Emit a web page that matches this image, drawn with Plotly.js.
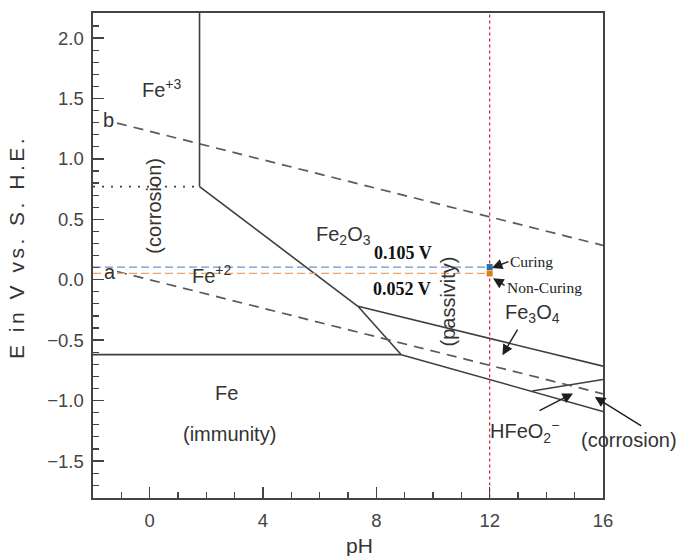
<!DOCTYPE html>
<html>
<head>
<meta charset="utf-8">
<script src="https://cdn.plot.ly/plotly-3.0.1.min.js"></script>
<style>html,body{margin:0;padding:0;background:#fff;}</style>
</head>
<body>
<div id="chart" style="width:677px;height:556px;"></div>
<script>
// ---- data (pH, E in V) ----
const xRange = [-2, 16];
const yRange = [-1.806, 2.207];
const xTickVals = [0, 4, 8, 12, 16];
const yTickVals = [-1.5, -1.0, -0.5, 0.0, 0.5, 1.0, 1.5, 2.0];

const fe3Fe2_pH = [-2, 1.76];          const fe3Fe2_E = [0.77, 0.77];        // dotted
const fe3Fe2O3_pH = [1.76, 1.76];      const fe3Fe2O3_E = [0.77, 2.5];
const fe2Fe2O3_pH = [1.76, 7.35];      const fe2Fe2O3_E = [0.77, -0.22];
const fe2Fe3O4_pH = [7.35, 8.88];      const fe2Fe3O4_E = [-0.22, -0.62];
const feFe2_pH = [-2, 8.88];           const feFe2_E = [-0.62, -0.62];
const feFe3O4_pH = [8.88, 16];         const feFe3O4_E = [-0.62, -1.09];
const fe2O3Fe3O4_pH = [7.35, 16];      const fe2O3Fe3O4_E = [-0.22, -0.715];
const fe3O4HFeO2_pH = [13.5, 16];      const fe3O4HFeO2_E = [-0.92, -0.825];
const lineA_pH = [-1.15, 16];          const lineA_E = [0.068, -0.944];
const lineB_pH = [-1.15, 16];          const lineB_E = [1.296, 0.284];
const pHConcrete = [12, 12];           const pHConcrete_E = [-2, 2.5];
const curing_pH = [-2, 12];            const curing_E = [0.105, 0.105];
const nonCuring_pH = [-2, 12];         const nonCuring_E = [0.052, 0.052];
const curingPoint = {pH: [12], E: [0.105]};
const nonCuringPoint = {pH: [12], E: [0.052]};

const SANS = 'Liberation Sans, Arial, Helvetica, sans-serif';
const SERIF = 'Liberation Serif, Times New Roman, serif';
const LINE = '#3e3e3e';
const TXT = '#333333';

function solid(x, y) {
  return {x: x, y: y, mode: 'lines', line: {color: LINE, width: 1.6}, hoverinfo: 'skip', showlegend: false};
}
function dashed(x, y) {
  return {x: x, y: y, mode: 'lines', line: {color: '#5a5a5a', width: 1.7, dash: '10px,7px'}, hoverinfo: 'skip', showlegend: false};
}

const traces = [
  {x: fe3Fe2_pH, y: fe3Fe2_E, mode: 'lines', line: {color: LINE, width: 1.6, dash: '2px,7px'}, showlegend: false, hoverinfo: 'skip'},
  solid(fe3Fe2O3_pH, fe3Fe2O3_E),
  solid(fe2Fe2O3_pH, fe2Fe2O3_E),
  solid(fe2Fe3O4_pH, fe2Fe3O4_E),
  solid(feFe2_pH, feFe2_E),
  solid(feFe3O4_pH, feFe3O4_E),
  solid(fe2O3Fe3O4_pH, fe2O3Fe3O4_E),
  solid(fe3O4HFeO2_pH, fe3O4HFeO2_E),
  dashed(lineA_pH, lineA_E),
  dashed(lineB_pH, lineB_E),
  {x: curing_pH, y: curing_E, mode: 'lines', line: {color: '#6c96c8', width: 1.3, dash: '8px,4px'}, showlegend: false, hoverinfo: 'skip'},
  {x: nonCuring_pH, y: nonCuring_E, mode: 'lines', line: {color: '#eba466', width: 1.3, dash: '8px,4px'}, showlegend: false, hoverinfo: 'skip'},
  {x: pHConcrete, y: pHConcrete_E, mode: 'lines', line: {color: '#d4213d', width: 1.2, dash: '3px,3px'}, showlegend: false, hoverinfo: 'skip'},
  {x: curingPoint.pH, y: curingPoint.E, mode: 'markers', marker: {symbol: 'square', size: 6, color: '#2a6fae'}, showlegend: false},
  {x: nonCuringPoint.pH, y: nonCuringPoint.E, mode: 'markers', marker: {symbol: 'square', size: 6, color: '#e0791f'}, showlegend: false}
];

function label(text, x, y, opts) {
  opts = opts || {};
  return Object.assign({
    text: text, x: x, y: y, xref: 'x', yref: 'y', showarrow: false,
    xanchor: 'center', yanchor: 'middle',
    font: {family: SANS, size: 20, color: TXT}
  }, opts);
}
function arrow(x, y, ax, ay) {
  return {text: '', x: x, y: y, xref: 'x', yref: 'y', ax: ax, ay: ay, axref: 'pixel', ayref: 'pixel',
    showarrow: true, arrowhead: 2, arrowsize: 1.5, arrowwidth: 1.4, arrowcolor: '#1e1e1e'};
}

const annotations = [
  label('Fe<sup>+3</sup>', 0.44, 1.586),
  label('(corrosion)', 0.14, 0.61, {textangle: -90}),
  label('b', -1.45, 1.32),
  label('a', -1.41, 0.066),
  label('Fe<sup>+2</sup>', 2.2, 0.04),
  label('Fe<sub>2</sub>O<sub>3</sub>', 6.85, 0.37),
  label('<b>0.105 V</b>', 8.93, 0.22, {font: {family: SERIF, size: 18, color: '#111'}}),
  label('<b>0.052 V</b>', 8.9, -0.077, {font: {family: SERIF, size: 18, color: '#111'}}),
  label('(passivity)', 10.53, -0.18, {textangle: -90}),
  label('Curing', 13.47, 0.149, {font: {family: SERIF, size: 15.5, color: '#222'}}),
  label('Non-Curing', 13.93, -0.063, {font: {family: SERIF, size: 15.5, color: '#222'}}),
  label('Fe<sub>3</sub>O<sub>4</sub>', 13.5, -0.279),
  label('HFeO<sub>2</sub><sup>\u2212</sup>', 13.24, -1.259),
  label('Fe', 2.71, -0.941),
  label('(immunity)', 2.8, -1.273),
  {text: '(corrosion)', x: 1.051, y: 0.1196, xref: 'paper', yref: 'paper', showarrow: false,
   xanchor: 'center', yanchor: 'middle', font: {family: SANS, size: 20, color: TXT}},
  arrow(12.08, 0.097, 18, -7),
  arrow(12.12, 0.012, 13, 8),
  arrow(12.45, -0.624, 16, -27),
  arrow(14.94, -0.941, -35, 18),
  arrow(15.71, -0.969, 48, 30),
  // axis titles
  {text: 'pH', x: 0.522, y: -0.097, xref: 'paper', yref: 'paper', showarrow: false,
   xanchor: 'center', yanchor: 'middle', font: {family: SANS, size: 21, color: TXT}},
  {text: 'E in V vs. S. H.E.', x: -0.151, y: 0.5186, xref: 'paper', yref: 'paper', showarrow: false,
   textangle: -90, xanchor: 'center', yanchor: 'middle', font: {family: SANS, size: 21, color: TXT}}
];

const axisCommon = {
  showline: true, linecolor: '#444', linewidth: 1.6, mirror: true,
  showgrid: false, zeroline: false,
  ticks: 'inside', ticklen: 11, tickwidth: 1.4, tickcolor: '#444',
  tickfont: {family: SANS, size: 18.5, color: '#444'}
};

const layout = {
  width: 677, height: 556,
  margin: {l: 93, r: 74, t: 13, b: 58},
  paper_bgcolor: '#fff', plot_bgcolor: '#fff',
  showlegend: false,
  xaxis: Object.assign({}, axisCommon, {
    range: xRange, tickmode: 'array', tickvals: xTickVals, ticktext: xTickVals.map(String),
    ticklabelstandoff: 5,
    minor: {dtick: 1, tick0: 0, ticks: 'inside', ticklen: 6, tickwidth: 1.2, tickcolor: '#444'}
  }),
  yaxis: Object.assign({}, axisCommon, {
    range: yRange, tickmode: 'array', tickvals: yTickVals, ticktext: yTickVals.map(v => (v < 0 ? '\u2212' : '') + Math.abs(v).toFixed(1)),
    ticklabelstandoff: 4,
    minor: {dtick: 0.1, tick0: 0, ticks: 'inside', ticklen: 6, tickwidth: 1.2, tickcolor: '#444'}
  }),
  annotations: annotations
};

Plotly.newPlot('chart', traces, layout, {staticPlot: true, displayModeBar: false}).then(function () {
  document.querySelectorAll('.annotation-text').forEach(function (t) {
    if (t.textContent.indexOf('E in V') === 0) t.style.letterSpacing = '3.5px';
  });
});
</script>
</body>
</html>
